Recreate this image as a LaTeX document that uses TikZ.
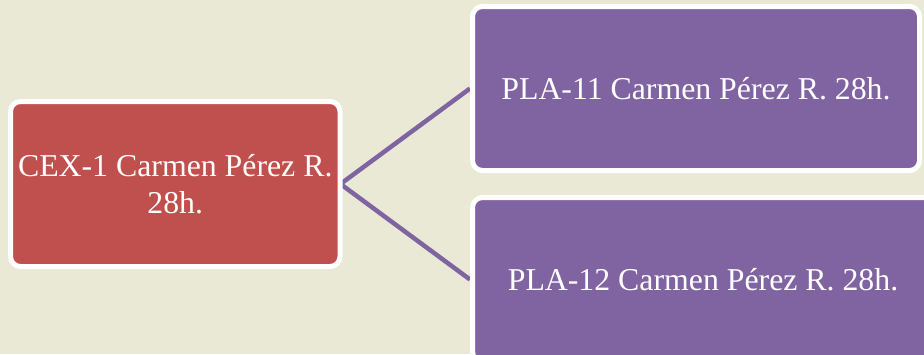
\documentclass[tikz,border=0pt]{standalone}
\usepackage{fontspec}
\setmainfont{Liberation Serif}
\usepackage{xcolor}
\usepackage{tikz}
\usetikzlibrary{calc}
\usetikzlibrary{backgrounds}
\definecolor{fondo}{RGB}{234,233,214}
\definecolor{rojo}{RGB}{192,80,77}
\definecolor{morado}{RGB}{128,100,162}

\begin{document}
\begin{tikzpicture}[x=1pt,y=-1pt,
	caja/.style={draw=white,line width=5pt,rounded corners=10pt,text=white,font=\fontsize{31.8}{37}\selectfont,align=center,minimum height=164pt}]
	\useasboundingbox (0,0) rectangle (924,354);
	\clip (0,0) rectangle (924,354);
	\node[caja,fill=rojo,minimum width=329.5pt,minimum height=165pt] (cex1) at (175.25,184) {CEX-1 Carmen Pérez R.\\28h.};
	\node[caja,fill=morado,minimum width=447pt] (pla11) at (696,88.5) {PLA-11 Carmen Pérez R. 28h.};
	\node[caja,fill=morado,minimum width=461pt] (pla12) at (703,279.5) {PLA-12 Carmen Pérez R. 28h.};
	\begin{scope}[on background layer]
		\fill[fondo] (0,0) rectangle (924,354);
		\draw[morado,line width=4.5pt] (pla11.west) -- ([xshift=-2pt]cex1.east) -- (pla12.west);
	\end{scope}
\end{tikzpicture}
\end{document}
